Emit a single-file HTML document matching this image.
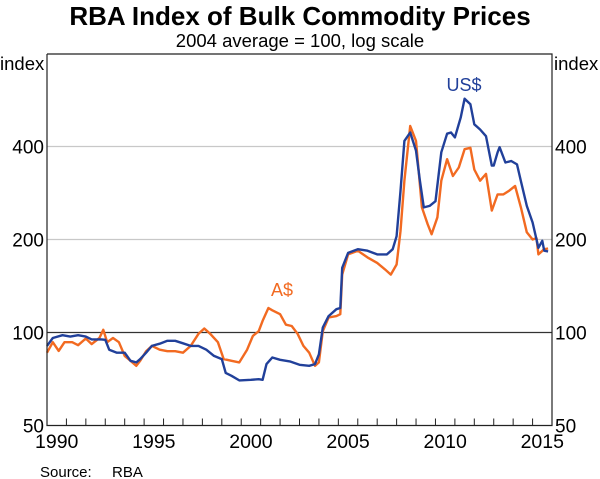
<!DOCTYPE html>
<html><head><meta charset="utf-8">
<style>
html,body{margin:0;padding:0;background:#fff;}
svg{display:block;font-family:"Liberation Sans",Arial,sans-serif;}
</style></head>
<body>
<svg id="chart" width="600" height="479" viewBox="0 0 600 479" xmlns="http://www.w3.org/2000/svg">
<text x="300" y="25" text-anchor="middle" font-size="26" font-weight="bold" fill="#000">RBA Index of Bulk Commodity Prices</text>
<text x="300" y="47" text-anchor="middle" font-size="18.5" fill="#000">2004 average = 100, log scale</text>
<text x="0" y="70" font-size="18.5" fill="#000">index</text>
<text x="554" y="70" font-size="18.5" fill="#000">index</text>
<g id="grid"></g>
<g id="series"></g>
<g id="axes"></g>
<text x="40" y="477" font-size="15" fill="#000">Source:</text>
<text x="112" y="477" font-size="15" fill="#000">RBA</text>
</svg>
<script>
const yTicks=[50,100,200,400];
const xLabels=[1990,1995,2000,2005,2010,2015];
const usYears=[1990,1990.3,1990.8,1991.2,1991.6,1992,1992.3,1992.8,1993,1993.2,1993.6,1994,1994.3,1994.6,1994.8,1995.1,1995.4,1995.8,1996.2,1996.6,1997,1997.4,1997.8,1998.2,1998.6,1999,1999.2,1999.5,1999.9,2000.5,2000.9,2001.1,2001.3,2001.6,2002,2002.5,2003,2003.5,2003.8,2004,2004.2,2004.5,2004.9,2005.1,2005.2,2005.5,2006,2006.5,2007,2007.5,2007.8,2008,2008.2,2008.4,2008.7,2009,2009.2,2009.4,2009.7,2010,2010.3,2010.6,2010.8,2011,2011.3,2011.5,2011.8,2012,2012.3,2012.6,2012.9,2013,2013.2,2013.3,2013.6,2013.9,2014.2,2014.4,2014.7,2015,2015.2,2015.3,2015.5,2015.6,2015.8];
const usValues=[90.5,96,98,97,98,97,95,95,94.7,88,86,86,81,80,82,86,90.5,92,94,94,92.3,90.5,90.5,88,84,82,74,72.4,70,70.3,70.6,70.3,79,83,81.6,80.6,78.6,78,79,85,103.8,113,119,120,162,181,186,184,179,179,186,205,287,417,444,388,310,254,257,266,383,440,444,428,496,571,548,472,454,432,347,347,383,398,355,359,350,309,257,227,200,188,198,184,183];
const audYears=[1990,1990.3,1990.6,1990.9,1991.3,1991.6,1992,1992.3,1992.7,1992.9,1993.1,1993.4,1993.7,1994,1994.3,1994.6,1994.8,1995.1,1995.4,1995.8,1996.2,1996.6,1997,1997.4,1997.8,1998.1,1998.4,1998.8,1999.1,1999.5,1999.9,2000.3,2000.6,2000.9,2001.1,2001.4,2001.6,2002,2002.3,2002.6,2002.9,2003.2,2003.5,2003.8,2004,2004.2,2004.5,2004.9,2005.1,2005.2,2005.5,2006,2006.5,2007,2007.4,2007.7,2008,2008.2,2008.4,2008.7,2009,2009.3,2009.6,2009.8,2010.1,2010.3,2010.6,2010.9,2011.2,2011.5,2011.8,2012,2012.3,2012.6,2012.9,2013.2,2013.5,2013.8,2014.1,2014.4,2014.7,2015,2015.2,2015.3,2015.6,2015.8];
const audValues=[86,93,87.2,93,93,91,95.6,91.7,96,102,93,96,93,84,81,78,81,87,90.5,88,87,87,86,90.5,99,103,99,93,82,81,80,88,97.5,101,109,120,118,114.6,106,105,99,90.5,86,78,80,101,111.8,113,114.6,154,179,184,175,168,160,154,166,213,310,466,417,254,224,208,236,310,364,321,342,392,396,337,310,326,248,280,280,288,298,254,211,200,202,179,186,187];

const NS='http://www.w3.org/2000/svg';
const L=47,R=552,T=54,B=425.5;
const x=yr=>L+(yr-1990)*(R-L)/26;
const y=v=>B-Math.log2(v/50)*93;
function mk(tag,attrs,parent){const e=document.createElementNS(NS,tag);for(const k in attrs)e.setAttribute(k,attrs[k]);parent.appendChild(e);return e;}
const grid=document.getElementById('grid'),axes=document.getElementById('axes'),ser=document.getElementById('series');
yTicks.forEach(v=>{
  if(v!==50){
    const gl=mk('line',{x1:L,x2:R,y1:y(v),y2:y(v),stroke:v===100?'#333':'#c8c8c8','stroke-width':1.2},grid);
    
    
  }
  const tl=mk('text',{x:44,y:y(v)+7,'text-anchor':'end','font-size':19},axes);tl.textContent=v;
  
  
  const tr=mk('text',{x:555,y:y(v)+7,'font-size':19},axes);tr.textContent=v;
  
  
});
function line(xs,vs,col,name){
  const d=xs.map((t,i)=>(i?'L':'M')+x(t).toFixed(1)+','+y(vs[i]).toFixed(1)).join('');
  const p=mk('path',{d:d,fill:'none',stroke:col,'stroke-width':2.4,'stroke-linejoin':'round'},ser);
  
  
}
line(audYears,audValues,'#f26a21','aud-series-line');
line(usYears,usValues,'#21409a','usd-series-line');
const la=mk('text',{x:282,y:296,'text-anchor':'middle','font-size':18,fill:'#f26a21'},ser);la.textContent='A$';


const lu=mk('text',{x:464,y:91,'text-anchor':'middle','font-size':18,fill:'#21409a'},ser);lu.textContent='US$';


const frame=mk('path',{d:`M${L},${T}V${B}H${R}V${T}H${L}`,fill:'none',stroke:'#222','stroke-width':1.2},axes);


for(let yr=1991;yr<=2015;yr++){
  const tk=mk('line',{x1:x(yr),x2:x(yr),y1:B,y2:B-7,stroke:'#222','stroke-width':1},axes);
  
  
}
xLabels.forEach(yr=>{
  const t=mk('text',{x:x(yr+0.5),y:448,'text-anchor':'middle','font-size':19.5},axes);t.textContent=yr;
  
  
});
</script>
</body></html>
